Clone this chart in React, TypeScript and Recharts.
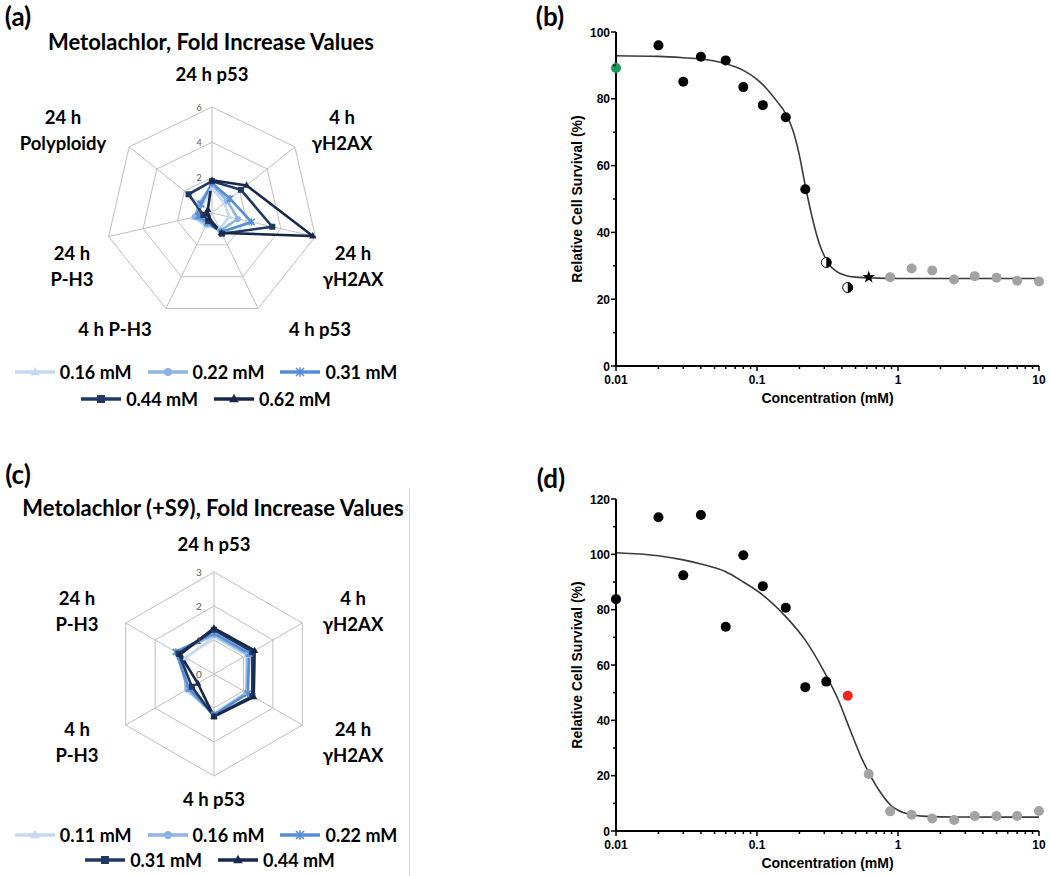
import React from 'react';
import {
  RadarChart, Radar, PolarGrid, PolarAngleAxis, PolarRadiusAxis,
  ComposedChart, Scatter, Line, XAxis, YAxis, Label,
} from 'recharts';

// ---------- Panel (a) data ----------
const axesA = ['24 h p53', '4 h γH2AX', '24 h γH2AX', '4 h p53', '4 h P-H3', '24 h P-H3', '24 h Polyploidy'];
const seriesNamesA = ['0.16 mM', '0.22 mM', '0.31 mM', '0.44 mM', '0.62 mM'];
const valsA016 = [1.4, 0.9, 1.0, 1.0, 0.8, 1.1, 0.7];
const valsA022 = [1.6, 1.1, 1.5, 1.1, 0.7, 1.0, 0.9];
const valsA031 = [1.7, 1.3, 2.3, 1.2, 0.6, 0.8, 0.8];
const valsA044 = [1.8, 2.1, 3.5, 1.3, 0.5, 0.5, 1.7];
const valsA062 = [1.85, 2.5, 5.85, 1.25, 0.35, 0.25, 0.3];
const radiusTicksA = [0, 2, 4, 6];

// ---------- Panel (c) data ----------
const axesC = ['24 h p53', '4 h γH2AX', '24 h γH2AX', '4 h p53', '4 h P-H3', '24 h P-H3'];
const seriesNamesC = ['0.11 mM', '0.16 mM', '0.22 mM', '0.31 mM', '0.44 mM'];
const valsC011 = [1.1, 1.1, 1.1, 1.15, 0.95, 0.95];
const valsC016 = [1.15, 1.15, 1.1, 1.2, 0.9, 1.25];
const valsC022 = [1.2, 1.2, 1.15, 1.2, 0.85, 1.3];
const valsC031 = [1.3, 1.3, 1.3, 1.25, 0.75, 1.2];
const valsC044 = [1.35, 1.38, 1.35, 1.25, 0.55, 1.15];
const radiusTicksC = [0, 1, 2, 3];

// ---------- Panel (b) data ----------
const concB = [0.01, 0.02, 0.03, 0.04, 0.06, 0.08, 0.11, 0.16, 0.22, 0.31, 0.44, 0.62, 0.88, 1.25, 1.75, 2.5, 3.5, 5, 7, 10];
const survB = [89.2, 96.0, 85.1, 92.6, 91.5, 83.5, 78.1, 74.5, 52.9, 31.0, 23.5, 26.6, 26.6, 29.2, 28.6, 25.9, 26.9, 26.4, 25.5, 25.3];
const kindB = ['green', 'black', 'black', 'black', 'black', 'black', 'black', 'black', 'black', 'half', 'half', 'star', 'gray', 'gray', 'gray', 'gray', 'gray', 'gray', 'gray', 'gray'];
const curveBx = [0.01, 0.02, 0.03, 0.04, 0.05, 0.06, 0.07, 0.08, 0.1, 0.12, 0.14, 0.16, 0.18, 0.2, 0.22, 0.24, 0.26, 0.28, 0.3, 0.33, 0.37, 0.42, 0.5, 0.7, 1, 10];
const curveBy = [92.9, 92.7, 92.3, 91.9, 91.3, 90.5, 89.6, 88.5, 85.8, 82.5, 79.0, 75.5, 70.5, 63.0, 54.0, 46.5, 40.5, 36.0, 33.0, 30.0, 28.2, 27.2, 26.6, 26.3, 26.2, 26.2];

// ---------- Panel (d) data ----------
const concD = [0.01, 0.02, 0.03, 0.04, 0.06, 0.08, 0.11, 0.16, 0.22, 0.31, 0.44, 0.62, 0.88, 1.25, 1.75, 2.5, 3.5, 5, 7, 10];
const survD = [83.8, 113.4, 92.4, 114.2, 73.8, 99.7, 88.5, 80.7, 52.0, 54.0, 48.9, 20.6, 7.1, 5.9, 4.5, 4.0, 5.4, 5.4, 5.4, 7.2];
const kindD = ['black', 'black', 'black', 'black', 'black', 'black', 'black', 'black', 'black', 'black', 'red', 'gray', 'gray', 'gray', 'gray', 'gray', 'gray', 'gray', 'gray', 'gray'];
const curveDx = [0.01, 0.02, 0.03, 0.04, 0.06, 0.08, 0.11, 0.16, 0.22, 0.3, 0.38, 0.45, 0.55, 0.63, 0.75, 0.88, 1.0, 1.25, 1.6, 2.5, 10];
const curveDy = [100.6, 99.5, 98.0, 96.5, 93.7, 90.0, 85.3, 77.5, 69.0, 57.5, 47.0, 37.5, 26.5, 20.5, 14.0, 9.5, 7.5, 5.9, 5.3, 5.05, 5.0];

const xTicks = [0.01, 0.02, 0.03, 0.04, 0.05, 0.06, 0.07, 0.08, 0.09, 0.1, 0.2, 0.3, 0.4, 0.5, 0.6, 0.7, 0.8, 0.9, 1, 2, 3, 4, 5, 6, 7, 8, 9, 10];
const yTicksB = [0, 10, 20, 30, 40, 50, 60, 70, 80, 90, 100];
const yTicksD = [0, 10, 20, 30, 40, 50, 60, 70, 80, 90, 100, 110, 120];

// ---------- styles ----------
const XL_FONT = "Lato, 'Open Sans', sans-serif";
const P_FONT = "'Liberation Sans', Arial, sans-serif";
type Shape = 'triangle' | 'circle' | 'asterisk' | 'square';
const styleA: { color: string; shape: Shape }[] = [
  { color: '#c5d9f1', shape: 'triangle' },
  { color: '#8db4e2', shape: 'circle' },
  { color: '#558ed5', shape: 'asterisk' },
  { color: '#1f3864', shape: 'square' },
  { color: '#18284a', shape: 'triangle' },
];
const styleC = styleA;

const layoutA: Record<string, { x: number; y: number; wrap?: boolean }> = {
  '24 h p53': { x: 212, y: 75 },
  '4 h γH2AX': { x: 342, y: 131, wrap: true },
  '24 h γH2AX': { x: 353, y: 267, wrap: true },
  '4 h p53': { x: 320, y: 330 },
  '4 h P-H3': { x: 115, y: 330 },
  '24 h P-H3': { x: 72, y: 267, wrap: true },
  '24 h Polyploidy': { x: 63, y: 131, wrap: true },
};
const layoutC: Record<string, { x: number; y: number; wrap?: boolean }> = {
  '24 h p53': { x: 214, y: 85 },
  '4 h γH2AX': { x: 353, y: 152, wrap: true },
  '24 h γH2AX': { x: 353, y: 283, wrap: true },
  '4 h p53': { x: 214, y: 340 },
  '4 h P-H3': { x: 77, y: 283, wrap: true },
  '24 h P-H3': { x: 77, y: 152, wrap: true },
};

function Marker({ cx, cy, shape, color, s }: { cx: number; cy: number; shape: Shape; color: string; s: number }) {
  if (shape === 'triangle')
    return <polygon points={`${cx},${cy - s * 1.3} ${cx + s * 1.2},${cy + s * 0.8} ${cx - s * 1.2},${cy + s * 0.8}`} fill={color} />;
  if (shape === 'circle') return <circle cx={cx} cy={cy} r={s} fill={color} />;
  if (shape === 'square') return <rect x={cx - s} y={cy - s} width={2 * s} height={2 * s} fill={color} />;
  return (
    <g stroke={color} strokeWidth={1.6}>
      <line x1={cx - s} y1={cy - s} x2={cx + s} y2={cy + s} />
      <line x1={cx - s} y1={cy + s} x2={cx + s} y2={cy - s} />
      <line x1={cx} y1={cy - s * 1.2} x2={cx} y2={cy + s * 1.2} />
    </g>
  );
}

function splitLabel(label: string): string[] {
  const i = label.indexOf(' h ');
  return i >= 0 ? [label.slice(0, i + 2), label.slice(i + 3)] : [label];
}

const makeAngleTick = (layout: Record<string, { x: number; y: number; wrap?: boolean }>) => (props: any) => {
  const label = String(props.payload?.value ?? '');
  const pos = layout[label];
  if (!pos) return <g />;
  const lines = pos.wrap ? splitLabel(label) : [label];
  const lh = 26;
  const y0 = pos.y - ((lines.length - 1) * lh) / 2;
  return (
    <text textAnchor="middle" fontFamily={XL_FONT} fontWeight={700} fontSize={18.5} fill="#000">
      {lines.map((l, i) => (
        <tspan key={i} x={pos.x} y={y0 + i * lh + 6}>{l}</tspan>
      ))}
    </text>
  );
};

const makeRadiusTick = (dx: number, dy: number, fs: number) => (props: any) => (
  <text x={props.x + dx} y={props.y + dy} textAnchor="middle" dominantBaseline="central" fontFamily={XL_FONT} fontSize={fs} fill="#595959">
    {props.payload?.value}
  </text>
);

function RadarPanel({ top, height, cx, cy, r, axes, names, vals, styles, maxV, tickCount, layout, tickDx, tickFs }: any) {
  const data = axes.map((axis: string, i: number) => {
    const row: any = { axis };
    vals.forEach((v: number[], k: number) => { row['s' + k] = v[i]; });
    return row;
  });
  return (
    <div style={{ position: 'absolute', left: 0, top }}>
      <RadarChart width={420} height={height} cx={cx} cy={cy} outerRadius={r} data={data} margin={{ top: 0, right: 0, bottom: 0, left: 0 }}>
        <PolarGrid stroke="#bfbfbf" strokeWidth={1} />
        <PolarAngleAxis dataKey="axis" tick={makeAngleTick(layout)} tickLine={false} axisLine={false} />
        <PolarRadiusAxis angle={90} domain={[0, maxV]} tickCount={tickCount} tick={makeRadiusTick(tickDx, 0, tickFs)} axisLine={false} tickLine={false} />
        {names.map((n: string, k: number) => (
          <Radar
            key={n}
            name={n}
            dataKey={'s' + k}
            stroke={styles[k].color}
            strokeWidth={2.6}
            fill="none"
            fillOpacity={0}
            isAnimationActive={false}
            dot={(p: any) => <Marker key={`${n}-${p.index}-${p.cx}`} cx={p.cx} cy={p.cy} shape={styles[k].shape} color={styles[k].color} s={3} />}
          />
        ))}
      </RadarChart>
    </div>
  );
}

function LegendRow({ items, top, center }: { items: { name: string; color: string; shape: Shape }[]; top: number; center: number }) {
  return (
    <div style={{ position: 'absolute', left: center - 250, width: 500, top: top - 12, height: 24, display: 'flex', justifyContent: 'center', alignItems: 'center', gap: 16 }}>
      {items.map((it) => (
        <div key={it.name} style={{ display: 'flex', alignItems: 'center', gap: 5 }}>
          <svg width={40} height={14}>
            <line x1={0} y1={7} x2={40} y2={7} stroke={it.color} strokeWidth={3.5} />
            <Marker cx={20} cy={7} shape={it.shape} color={it.color} s={4} />
          </svg>
          <span style={{ fontFamily: XL_FONT, fontWeight: 700, fontSize: 18, color: '#000', whiteSpace: 'nowrap' }}>{it.name}</span>
        </div>
      ))}
    </div>
  );
}

function Txt({ x, y, children, size, font, weight = 700 }: any) {
  return (
    <div style={{ position: 'absolute', left: x, top: y, transform: 'translate(-50%,-50%)', whiteSpace: 'nowrap', fontFamily: font, fontSize: size, fontWeight: weight, color: '#000', lineHeight: 1.1 }}>
      {children}
    </div>
  );
}

const LogXTick = (props: any) => {
  const { x, y, payload } = props;
  const v = payload.value;
  const lg = Math.log10(v);
  const major = Math.abs(lg - Math.round(lg)) < 1e-6;
  return (
    <g>
      <line x1={x} y1={y} x2={x} y2={y + (major ? 5 : 3)} stroke="#000" strokeWidth={1.5} />
      {major && (
        <text x={x} y={y + 18} textAnchor="middle" fontFamily={P_FONT} fontWeight={700} fontSize={12} fill="#000">{String(v)}</text>
      )}
    </g>
  );
};

const YTick = (props: any) => {
  const { x, y, payload } = props;
  const v = payload.value;
  const major = v % 20 === 0;
  return (
    <g>
      <line x1={x} y1={y} x2={x - (major ? 5 : 3)} y2={y} stroke="#000" strokeWidth={1.5} />
      {major && (
        <text x={x - 6} y={y + 4.5} textAnchor="end" fontFamily={P_FONT} fontWeight={700} fontSize={12} fill="#000">{v}</text>
      )}
    </g>
  );
};

const DotShape = (props: any) => {
  const { cx, cy, payload } = props;
  const k = payload?.kind;
  const r = 5;
  if (k === 'half')
    return (
      <g>
        <circle cx={cx} cy={cy} r={r} fill="#fff" stroke="#000" strokeWidth={1} />
        <path d={`M ${cx} ${cy - r} A ${r} ${r} 0 0 1 ${cx} ${cy + r} Z`} fill="#000" />
      </g>
    );
  if (k === 'star') {
    const pts: string[] = [];
    for (let i = 0; i < 10; i++) {
      const rr = i % 2 === 0 ? 6.5 : 2.6;
      const a = -Math.PI / 2 + (i * Math.PI) / 5;
      pts.push(`${cx + rr * Math.cos(a)},${cy + rr * Math.sin(a)}`);
    }
    return <polygon points={pts.join(' ')} fill="#000" />;
  }
  const fills: Record<string, string> = { black: '#000', gray: '#a3a3a3', green: '#1a9a5c', red: '#f0281c' };
  return <circle cx={cx} cy={cy} r={r} fill={fills[k] || '#000'} />;
};

function DoseChart({ top, height, marginTop, xAxisH, yMax, yTicks, conc, surv, kinds, cx, cy }: any) {
  const points = conc.map((x: number, i: number) => ({ x, y: surv[i], kind: kinds[i] }));
  const curve = cx.map((x: number, i: number) => ({ x, y: cy[i] }));
  return (
    <div style={{ position: 'absolute', left: 530, top }}>
      <ComposedChart width={520} height={height} margin={{ top: marginTop, right: 11, bottom: 0, left: 0 }}>
        <XAxis
          dataKey="x" type="number" scale="log" domain={[0.01, 10]} ticks={xTicks} interval={0}
          tick={<LogXTick />} tickLine={false} tickSize={0} tickMargin={0} height={xAxisH}
          axisLine={{ stroke: '#000', strokeWidth: 2 }}
        >
          <Label
            content={(p: any) => {
              const vb = p.viewBox || {};
              return (
                <text x={vb.x + vb.width / 2} y={vb.y + 37} textAnchor="middle" fontFamily={P_FONT} fontWeight={700} fontSize={14} fill="#000">
                  Concentration (mM)
                </text>
              );
            }}
          />
        </XAxis>
        <YAxis
          dataKey="y" type="number" domain={[0, yMax]} ticks={yTicks} interval={0}
          tick={<YTick />} tickLine={false} tickSize={0} tickMargin={0} width={86}
          axisLine={{ stroke: '#000', strokeWidth: 2 }}
        >
          <Label
            content={(p: any) => {
              const vb = p.viewBox || {};
              const yc = vb.y + vb.height / 2;
              return (
                <text x={47} y={yc} transform={`rotate(-90 47 ${yc})`} textAnchor="middle" dominantBaseline="central" fontFamily={P_FONT} fontWeight={700} fontSize={14} fill="#000">
                  Relative Cell Survival (%)
                </text>
              );
            }}
          />
        </YAxis>
        <Line data={curve} dataKey="y" type="monotone" stroke="#3a3a3a" strokeWidth={1.6} dot={false} isAnimationActive={false} />
        <Scatter data={points} dataKey="y" shape={DotShape} isAnimationActive={false} />
      </ComposedChart>
    </div>
  );
}

export default function App() {
  const legendA = seriesNamesA.map((name, i) => ({ name, ...styleA[i] }));
  const legendC = seriesNamesC.map((name, i) => ({ name, ...styleC[i] }));
  return (
    <div style={{ position: 'absolute', left: 0, top: 0, width: 1050, height: 876, background: '#fff', overflow: 'hidden' }}>
      {/* Panel (a) */}
      <RadarPanel top={0} height={420} cx={212} cy={213} r={106} axes={axesA} names={seriesNamesA}
        vals={[valsA016, valsA022, valsA031, valsA044, valsA062]} styles={styleA} maxV={radiusTicksA[radiusTicksA.length - 1]}
        tickCount={radiusTicksA.length} layout={layoutA} tickDx={-13} tickFs={9} />
      <Txt x={18} y={16} size={26} font={XL_FONT}>(a)</Txt>
      <Txt x={211} y={42} size={22} font={XL_FONT}>Metolachlor, Fold Increase Values</Txt>
      <LegendRow items={legendA.slice(0, 3)} top={372} center={206} />
      <LegendRow items={legendA.slice(3)} top={399} center={206} />

      {/* Panel (c) */}
      <RadarPanel top={460} height={416} cx={214} cy={214} r={102} axes={axesC} names={seriesNamesC}
        vals={[valsC011, valsC016, valsC022, valsC031, valsC044]} styles={styleC} maxV={radiusTicksC[radiusTicksC.length - 1]}
        tickCount={radiusTicksC.length} layout={layoutC} tickDx={-15} tickFs={10} />
      <Txt x={18} y={474} size={26} font={XL_FONT}>(c)</Txt>
      <Txt x={213} y={508} size={22} font={XL_FONT}>Metolachlor (+S9), Fold Increase Values</Txt>
      <LegendRow items={legendC.slice(0, 3)} top={835} center={206} />
      <LegendRow items={legendC.slice(3)} top={860} center={210} />
      <div style={{ position: 'absolute', left: 409, top: 488, width: 1, height: 388, background: '#d9d9d9' }} />

      {/* Panel (b) */}
      <DoseChart top={0} height={420} marginTop={32} xAxisH={54} yMax={100} yTicks={yTicksB}
        conc={concB} surv={survB} kinds={kindB} cx={curveBx} cy={curveBy} />
      <Txt x={550} y={16} size={26} font={XL_FONT}>(b)</Txt>

      {/* Panel (d) */}
      <DoseChart top={460} height={416} marginTop={39} xAxisH={45} yMax={120} yTicks={yTicksD}
        conc={concD} surv={survD} kinds={kindD} cx={curveDx} cy={curveDy} />
      <Txt x={551} y={478} size={26} font={XL_FONT}>(d)</Txt>
    </div>
  );
}
